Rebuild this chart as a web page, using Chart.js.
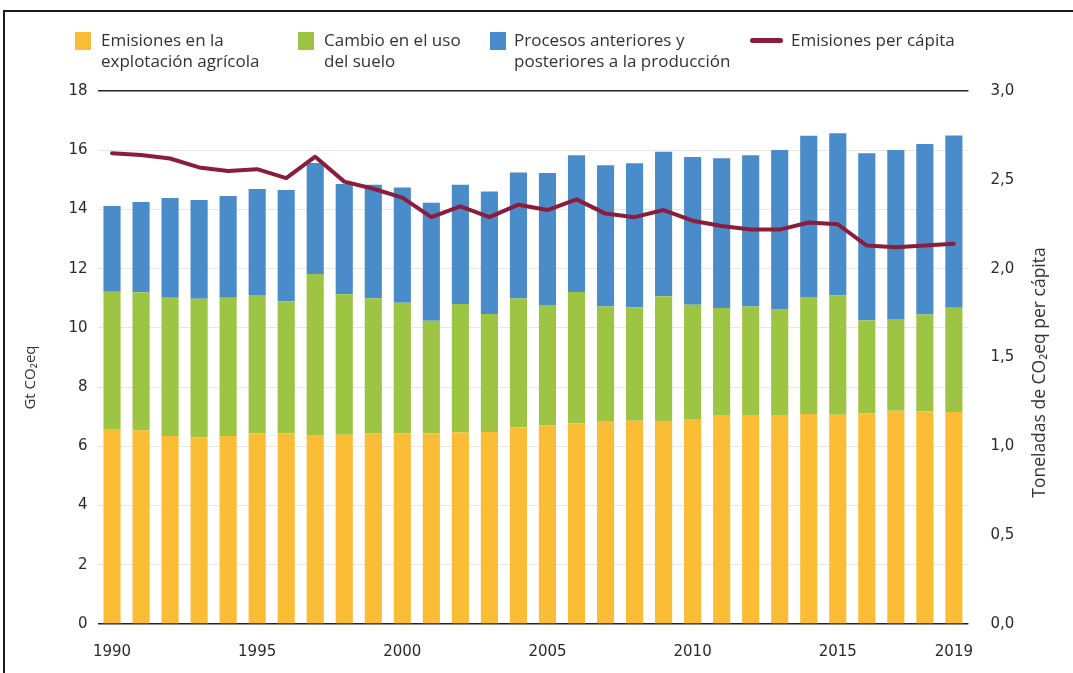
<!DOCTYPE html>
<html lang="es">
<head>
<meta charset="utf-8">
<title>Emisiones de gases de efecto invernadero</title>
<script src="https://cdn.jsdelivr.net/npm/chart.js@4.4.1/dist/chart.umd.min.js"></script>
<style>
  body { margin: 0; background: #fff; }
  #wrap { position: relative; width: 1073px; height: 673px; overflow: hidden; font-family: 'Open Sans', 'Liberation Sans', sans-serif; }
  #frame { position: absolute; left: 3px; top: 10px; width: 1200px; height: 800px; border-top: 2px solid #1a1a1a; border-left: 2px solid #1a1a1a; }
  canvas { position: absolute; left: 0; top: 0; }
  .leg { position: absolute; top: 29px; font-size: 17px; line-height: 21px; color: #333; white-space: nowrap; }
  .sw { position: absolute; }
</style>
</head>
<body>
<div id="wrap">
  <div id="frame"></div>
  <canvas id="myChart" width="1073" height="673"></canvas>
  <div class="sw" style="left:75px;top:32px;width:16px;height:18px;background:#fbbd36"></div>
  <div class="leg" style="left:101px">Emisiones en la<br>explotación agrícola</div>
  <div class="sw" style="left:298px;top:32px;width:16px;height:18px;background:#9ec443"></div>
  <div class="leg" style="left:324px">Cambio en el uso<br>del suelo</div>
  <div class="sw" style="left:490px;top:32px;width:16px;height:18px;background:#4a8bca"></div>
  <div class="leg" style="left:514px">Procesos anteriores y<br>posteriores a la producción</div>
  <div class="sw" style="left:750px;top:38px;width:33px;height:5px;border-radius:3px;background:#8a1c3c"></div>
  <div class="leg" style="left:791px">Emisiones per cápita</div>
</div>
<script>
const years = ['1990', '1991', '1992', '1993', '1994', '1995', '1996', '1997', '1998', '1999',
	'2000', '2001', '2002', '2003', '2004', '2005', '2006', '2007', '2008', '2009',
	'2010', '2011', '2012', '2013', '2014', '2015', '2016', '2017', '2018', '2019'];
const shown_years = ['1990', '1995', '2000', '2005', '2010', '2015', '2019'];

// Gt CO2eq
const agricola = [6.56, 6.54, 6.35, 6.31, 6.35, 6.43, 6.44, 6.36, 6.39, 6.44,
	6.44, 6.44, 6.47, 6.48, 6.64, 6.70, 6.78, 6.83, 6.86, 6.83,
	6.90, 7.03, 7.06, 7.03, 7.09, 7.07, 7.12, 7.20, 7.18, 7.16];
const uso_suelo = [4.66, 4.66, 4.67, 4.67, 4.67, 4.68, 4.46, 5.46, 4.75, 4.56,
	4.41, 3.80, 4.34, 3.99, 4.35, 4.07, 4.43, 3.89, 3.84, 4.24,
	3.88, 3.64, 3.66, 3.61, 3.95, 4.02, 3.14, 3.10, 3.27, 3.52];
const procesos = [2.90, 3.05, 3.37, 3.34, 3.43, 3.58, 3.76, 3.75, 3.72, 3.83,
	3.89, 3.99, 4.02, 4.14, 4.26, 4.46, 4.62, 4.77, 4.86, 4.88,
	4.99, 5.06, 5.11, 5.37, 5.45, 5.48, 5.64, 5.71, 5.76, 5.82];
// toneladas CO2eq por persona
const per_capita = [2.65, 2.64, 2.62, 2.57, 2.55, 2.56, 2.51, 2.63, 2.49, 2.45,
	2.40, 2.29, 2.35, 2.29, 2.36, 2.33, 2.39, 2.31, 2.29, 2.33,
	2.27, 2.24, 2.22, 2.22, 2.26, 2.25, 2.13, 2.12, 2.13, 2.14];

const left_max = 18, left_step = 2;
const right_max = 3, right_step = 0.5;

const tick_font = { family: "'DejaVu Sans', sans-serif", size: 15 };

const axisTitles = {
	id: 'axisTitles',
	afterDraw(chart) {
		const c = chart.ctx;
		const area = chart.chartArea;
		const mid = (area.top + area.bottom) / 2;
		c.save();
		c.fillStyle = '#333';
		c.textAlign = 'center';
		c.textBaseline = 'middle';
		c.font = "15px 'Open Sans', sans-serif";
		c.translate(31, mid + 20);
		c.rotate(-Math.PI / 2);
		c.fillText('Gt CO₂eq', 0, 0);
		c.restore();
		c.save();
		c.fillStyle = '#333';
		c.textAlign = 'center';
		c.textBaseline = 'middle';
		c.font = "17.5px 'Open Sans', sans-serif";
		c.translate(1040, mid + 15);
		c.rotate(-Math.PI / 2);
		c.fillText('Toneladas de CO₂eq per cápita', 0, 0);
		c.restore();
	},
};

const ctx = document.getElementById('myChart').getContext('2d');
const my_chart = new Chart(ctx, {
	data: {
		labels: years,
		datasets: [
			{
				type: 'line',
				label: 'Emisiones per cápita',
				data: per_capita,
				yAxisID: 'y2',
				borderColor: '#8a1c3c',
				borderWidth: 4,
				pointRadius: 0,
				tension: 0,
				borderJoinStyle: 'round',
				borderCapStyle: 'round',
				order: 0,
			},
			{
				type: 'bar',
				label: 'Emisiones en la explotación agrícola',
				data: agricola,
				backgroundColor: '#fbbd36',
				order: 1,
			},
			{
				type: 'bar',
				label: 'Cambio en el uso del suelo',
				data: uso_suelo,
				backgroundColor: '#9ec443',
				order: 1,
			},
			{
				type: 'bar',
				label: 'Procesos anteriores y posteriores a la producción',
				data: procesos,
				backgroundColor: '#4a8bca',
				order: 1,
			},
		],
	},
	options: {
		responsive: false,
		animation: false,
		layout: { padding: { top: 91, left: 0, right: 0, bottom: 0 } },
		datasets: { bar: { barPercentage: 0.59, categoryPercentage: 1 } },
		plugins: { legend: { display: false }, tooltip: { enabled: false } },
		scales: {
			x: {
				stacked: true,
				offset: true,
				grid: { display: false },
				border: { display: false },
				ticks: {
					autoSkip: false,
					maxRotation: 0,
					padding: 11,
					color: '#2a2a2a',
					font: tick_font,
					callback: (v, i) => (shown_years.includes(years[i]) ? years[i] : ''),
				},
				afterFit: (scale) => { scale.height = 49; },
			},
			y: {
				stacked: true,
				min: 0,
				max: left_max,
				border: { display: false },
				grid: {
					drawTicks: false,
					lineWidth: (c) => (c.tick.value === 0 || c.tick.value === left_max ? 1.5 : 1),
					color: (c) => (c.tick.value === 0 || c.tick.value === left_max ? '#222' : '#e6e6e6'),
				},
				ticks: { stepSize: left_step, padding: 10, color: '#2a2a2a', font: tick_font },
				afterFit: (scale) => { scale.width = 97.5; },
			},
			y2: {
				position: 'right',
				min: 0,
				max: right_max,
				border: { display: false },
				grid: { display: false },
				ticks: {
					stepSize: right_step,
					padding: 14,
					color: '#2a2a2a',
					font: tick_font,
					callback: (v) => v.toFixed(1).replace('.', ','),
				},
				afterFit: (scale) => { scale.width = 104.6; },
			},
		},
	},
	plugins: [axisTitles],
});
</script>
</body>
</html>
